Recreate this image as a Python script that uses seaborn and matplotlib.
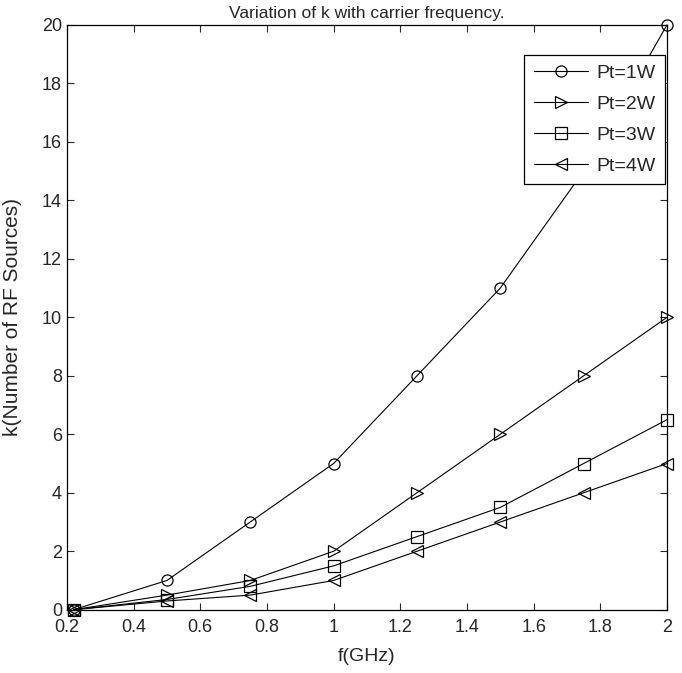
import matplotlib
matplotlib.use("Agg")
import matplotlib.pyplot as plt
import seaborn as sns
import numpy as np
import pandas as pd

# data
freq = [0.22, 0.5, 0.75, 1.0, 1.25, 1.5, 1.75, 2.0]
k_1w = [0, 1, 3, 5, 8, 11, 15, 20]
k_2w = [0, 0.5, 1, 2, 4, 6, 8, 10]
k_3w = [0, 0.35, 0.8, 1.5, 2.5, 3.5, 5, 6.5]
k_4w = [0, 0.3, 0.5, 1, 2, 3, 4, 5]
labels = ['Pt=1W', 'Pt=2W', 'Pt=3W', 'Pt=4W']
markers = ['o', '>', 's', '<']

sns.set_style("ticks")
plt.rcParams['font.family'] = ['Liberation Sans', 'DejaVu Sans']
plt.rcParams['xtick.direction'] = 'in'
plt.rcParams['ytick.direction'] = 'in'

fig = plt.figure(figsize=(6.82, 6.73), dpi=100)
ax = fig.add_axes([0.098, 0.094, 0.880, 0.869])

for series, lab, m in zip([k_1w, k_2w, k_3w, k_4w], labels, markers):
    df = pd.DataFrame({'f': freq, 'k': series})
    sns.lineplot(data=df, x='f', y='k', ax=ax, color='black', linewidth=0.8,
                 marker=m, markersize=8, markerfacecolor='none',
                 markeredgecolor='black', markeredgewidth=0.9, label=lab,
                 clip_on=False, zorder=3)

ax.set_xlim(0.2, 2)
ax.set_ylim(0, 20)
ax.set_xticks(np.arange(0.2, 2.01, 0.2))
ax.set_xticklabels(['0.2', '0.4', '0.6', '0.8', '1', '1.2', '1.4', '1.6', '1.8', '2'])
ax.set_yticks(range(0, 21, 2))
ax.tick_params(labelsize=13, top=True, right=True, length=5, width=0.8)
ax.tick_params(axis='x', pad=7)
for s in ax.spines.values():
    s.set_linewidth(0.9)
    s.set_color('black')

ax.set_xlabel('f(GHz)', fontsize=14, labelpad=8)
ax.set_ylabel('k(Number of RF Sources)', fontsize=15, labelpad=14)
ax.set_title('Variation of k with carrier frequency.', fontsize=12.5, pad=5)

leg = ax.legend(loc='upper right', bbox_to_anchor=(0.997, 0.949), borderaxespad=0,
                fontsize=14, handlelength=2.8, frameon=True, fancybox=False,
                edgecolor='black', labelspacing=0.68, handletextpad=0.4,
                borderpad=0.5)
leg.get_frame().set_linewidth(0.9)
leg.get_frame().set_alpha(1)
leg.set_zorder(5)

fig.savefig('out.png', dpi=100)
